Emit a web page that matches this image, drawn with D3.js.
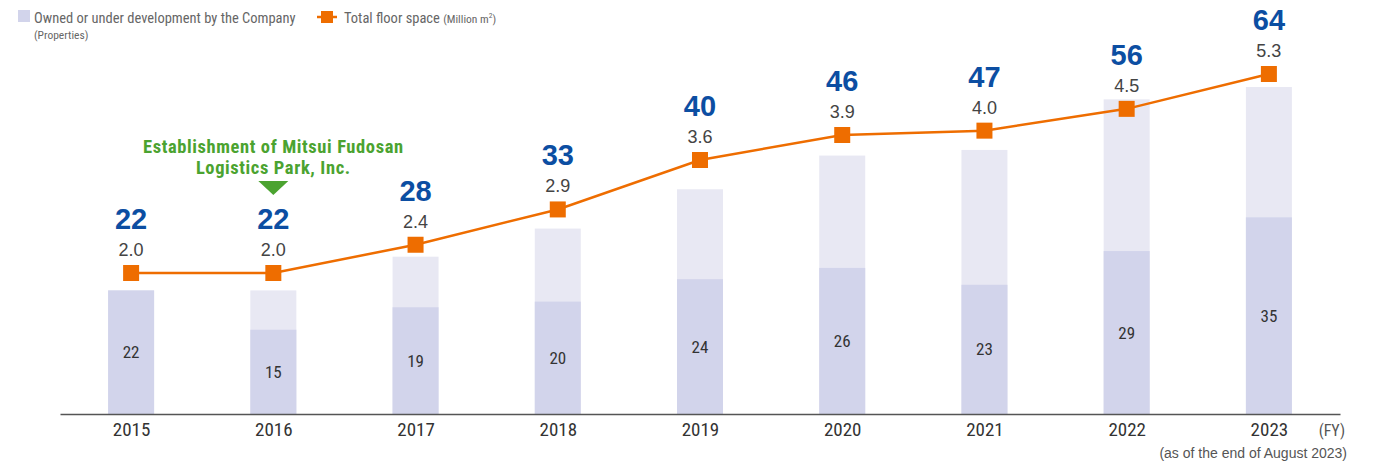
<!DOCTYPE html>
<html>
<head>
<meta charset="utf-8">
<script src="https://cdn.jsdelivr.net/npm/d3@7"></script>
<style>
  html, body { margin: 0; padding: 0; background: #fff; }
  svg { display: block; }
  .cond { font-family: "Liberation Sans Narrow", "Roboto Condensed", "Liberation Sans", Arial, sans-serif; }
  .sans { font-family: "Liberation Sans", Arial, Helvetica, sans-serif; }
</style>
</head>
<body>
<div id="chart"></div>
<script>
// chart data
const years = ['2015', '2016', '2017', '2018', '2019', '2020', '2021', '2022', '2023'];
const ownedProps = [22, 15, 19, 20, 24, 26, 23, 29, 35];
const totalProps = [22, 22, 28, 33, 40, 46, 47, 56, 64];
const floorSpace = [2.0, 2.0, 2.4, 2.9, 3.6, 3.9, 4.0, 4.5, 5.3];
const noteYear = '2016';
const noteLines = ['Establishment of Mitsui Fudosan', 'Logistics Park, Inc.'];

const W = 1376, H = 462;
const baseY = 414;
const colOwned = '#d2d4eb', colRest = '#e8e8f3', colLine = '#ee6d00', colBlue = '#0c4ea2', colGreen = '#4ba330';

const svg = d3.select('#chart').append('svg')
  .attr('width', W).attr('height', H);

// scales
const x = d3.scalePoint().domain(years).range([60, 1340]).padding(0.5);
// bar scale, tallest bar is cut at the top of the plot
const y = d3.scaleLinear().domain([0, 58.2]).range([baseY, 87]).clamp(true);
// line scale (uneven spacing, as in the source figure)
const y2 = d3.scaleLinear().domain([2.0, 3.6, 3.9, 5.3]).range([273, 160, 135, 74]);
const barW = 46;

// bars: full (light) then owned (darker)
const bars = svg.append('g');
bars.selectAll('rect.total').data(years).enter().append('rect')
  .attr('x', d => x(d) - barW / 2)
  .attr('y', (d, i) => y(totalProps[i]))
  .attr('width', barW)
  .attr('height', (d, i) => baseY - y(totalProps[i]))
  .attr('fill', colRest);
bars.selectAll('rect.owned').data(years).enter().append('rect')
  .attr('x', d => x(d) - barW / 2)
  .attr('y', (d, i) => y(ownedProps[i]))
  .attr('width', barW)
  .attr('height', (d, i) => baseY - y(ownedProps[i]))
  .attr('fill', colOwned);
bars.selectAll('text').data(years).enter().append('text')
  .attr('class', 'cond')
  .attr('x', d => x(d))
  .attr('y', (d, i) => (y(ownedProps[i]) + baseY) / 2 + 6)
  .attr('text-anchor', 'middle')
  .attr('font-size', 17).attr('fill', '#333')
  .text((d, i) => ownedProps[i]);

// x axis
const axis = svg.append('g')
  .attr('transform', `translate(0,${baseY})`)
  .call(d3.axisBottom(x).tickSize(0).tickPadding(9));
axis.select('.domain').attr('stroke', '#555').attr('stroke-width', 1.5);
axis.selectAll('.tick text')
  .attr('class', 'cond')
  .attr('font-size', 19).attr('fill', '#333');

svg.append('text').attr('class', 'cond')
  .attr('x', 1345).attr('y', 436).attr('text-anchor', 'end')
  .attr('font-size', 16).attr('fill', '#555').text('(FY)');
svg.append('text').attr('class', 'sans')
  .attr('x', 1347).attr('y', 458).attr('text-anchor', 'end')
  .attr('font-size', 14).attr('fill', '#555').text('(as of the end of August 2023)');

// floor space line
const line = d3.line()
  .x(d => x(d.year))
  .y(d => y2(d.v));
const pts = years.map((yr, i) => ({ year: yr, v: floorSpace[i], n: totalProps[i] }));
svg.append('path').datum(pts)
  .attr('d', line)
  .attr('fill', 'none')
  .attr('stroke', colLine)
  .attr('stroke-width', 2.5);
svg.selectAll('rect.mk').data(pts).enter().append('rect')
  .attr('x', d => x(d.year) - 8)
  .attr('y', d => y2(d.v) - 8)
  .attr('width', 16).attr('height', 16)
  .attr('fill', colLine);

// labels above markers
svg.selectAll('text.fs').data(pts).enter().append('text')
  .attr('class', 'sans')
  .attr('x', d => x(d.year))
  .attr('y', d => y2(d.v) - 17)
  .attr('text-anchor', 'middle')
  .attr('font-size', 18).attr('fill', '#444')
  .text(d => d.v.toFixed(1));
svg.selectAll('text.tot').data(pts).enter().append('text')
  .attr('class', 'sans')
  .attr('x', d => x(d.year))
  .attr('y', d => y2(d.v) - 44)
  .attr('text-anchor', 'middle')
  .attr('font-size', 29).attr('font-weight', 'bold').attr('fill', colBlue)
  .text(d => d.n);

// annotation
const nx = x(noteYear);
svg.append('g').selectAll('text').data(noteLines).enter().append('text')
  .attr('class', 'cond')
  .attr('x', nx)
  .attr('y', (d, i) => 153 + i * 21)
  .attr('text-anchor', 'middle')
  .attr('font-size', 18.5).attr('letter-spacing', 0.6)
  .attr('font-weight', 'bold').attr('fill', colGreen)
  .text(d => d);
svg.append('path')
  .attr('d', `M${nx - 15},181 L${nx + 15},181 L${nx},195 Z`)
  .attr('fill', colGreen);

// legend
const lg = svg.append('g');
lg.append('rect').attr('x', 18).attr('y', 10).attr('width', 12).attr('height', 12).attr('fill', colOwned);
lg.append('text').attr('class', 'cond').attr('x', 34).attr('y', 23)
  .attr('font-size', 14.5).attr('fill', '#666').text('Owned or under development by the Company');
lg.append('text').attr('class', 'cond').attr('x', 34).attr('y', 39)
  .attr('font-size', 11.5).attr('fill', '#666').text('(Properties)');
lg.append('line').attr('x1', 317).attr('x2', 337).attr('y1', 17).attr('y2', 17)
  .attr('stroke', colLine).attr('stroke-width', 2.5);
lg.append('rect').attr('x', 321).attr('y', 11).attr('width', 12).attr('height', 12).attr('fill', colLine);
const lt = lg.append('text').attr('class', 'cond').attr('x', 344).attr('y', 23)
  .attr('font-size', 14.5).attr('fill', '#666');
lt.append('tspan').text('Total floor space ');
lt.append('tspan').attr('font-size', 11.5).text('(Million m');
lt.append('tspan').attr('font-size', 7.5).attr('dy', -5).text('2');
lt.append('tspan').attr('font-size', 11.5).attr('dy', 5).text(')');
</script>
</body>
</html>
